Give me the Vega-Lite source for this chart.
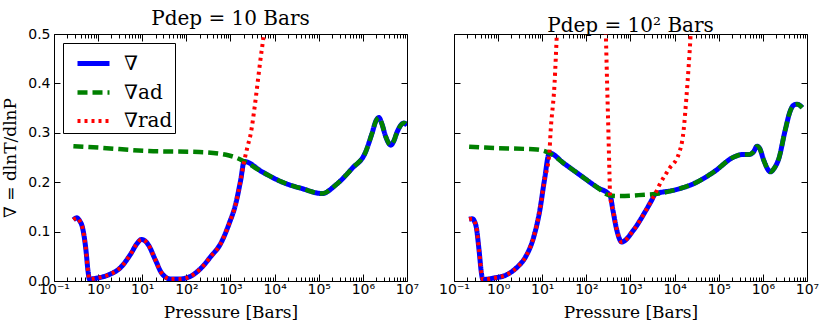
{
"$schema": "https://vega.github.io/schema/vega-lite/v6.json",
"padding": {"left": 1, "top": 8, "right": 5, "bottom": 2},
"config": {
  "view": {"stroke": "black", "strokeWidth": 1},
  "title": {"font": "DejaVu Serif", "fontSize": 20, "fontWeight": "normal", "offset": 2, "dy": 4, "color": "black"},
  "axis": {"labelFont": "DejaVu Sans", "labelFontSize": 14, "labelFontWeight": "normal", "labelColor": "black", "titleFont": "DejaVu Serif", "titleFontSize": 17, "titleFontWeight": "normal", "titleColor": "black", "domain": false, "grid": false, "tickColor": "black", "labelOverlap": false, "labelBound": false, "labelFlush": false},
  "legend": {"orient": "top-left", "offset": 9, "padding": 2, "strokeColor": "black", "fillColor": "white", "symbolType": "stroke", "symbolSize": 1024, "symbolOffset": 10, "labelFont": "DejaVu Serif", "labelFontSize": 20, "labelColor": "black", "rowPadding": 0, "labelOffset": 12, "cornerRadius": 0},
  "concat": {"spacing": 18}
},
"data": {"values": [
{"p":"L","s":"∇rad","P":0.275,"v":0.124},{"p":"L","s":"∇rad","P":0.33,"v":0.128},{"p":"L","s":"∇rad","P":0.38,"v":0.122},{"p":"L","s":"∇rad","P":0.44,"v":0.109},{"p":"L","s":"∇rad","P":0.52,"v":0.069},{"p":"L","s":"∇rad","P":0.6,"v":0.015},{"p":"L","s":"∇rad","P":0.63,"v":0.004},{"p":"L","s":"∇rad","P":0.95,"v":0.006},{"p":"L","s":"∇rad","P":1.78,"v":0.013},{"p":"L","s":"∇rad","P":3.2,"v":0.027},{"p":"L","s":"∇rad","P":5.5,"v":0.055},{"p":"L","s":"∇rad","P":7.5,"v":0.075},{"p":"L","s":"∇rad","P":9.6,"v":0.084},{"p":"L","s":"∇rad","P":12,"v":0.08},{"p":"L","s":"∇rad","P":14,"v":0.072},{"p":"L","s":"∇rad","P":20,"v":0.042},{"p":"L","s":"∇rad","P":28,"v":0.015},{"p":"L","s":"∇rad","P":44,"v":0.004},{"p":"L","s":"∇rad","P":68,"v":0.004},{"p":"L","s":"∇rad","P":114,"v":0.008},{"p":"L","s":"∇rad","P":210,"v":0.025},{"p":"L","s":"∇rad","P":354,"v":0.049},{"p":"L","s":"∇rad","P":600,"v":0.076},{"p":"L","s":"∇rad","P":930,"v":0.116},{"p":"L","s":"∇rad","P":1320,"v":0.157},{"p":"L","s":"∇rad","P":1700,"v":0.204},{"p":"L","s":"∇rad","P":2040,"v":0.242},{"p":"L","s":"∇rad","P":2400,"v":0.27},{"p":"L","s":"∇rad","P":2900,"v":0.3},{"p":"L","s":"∇rad","P":3500,"v":0.35},{"p":"L","s":"∇rad","P":4100,"v":0.4},{"p":"L","s":"∇rad","P":4800,"v":0.45},{"p":"L","s":"∇rad","P":5700,"v":0.5},{"p":"L","s":"∇rad","P":7000,"v":0.58},
{"p":"L","s":"∇ad","P":0.275,"v":0.273},{"p":"L","s":"∇ad","P":1.05,"v":0.27},{"p":"L","s":"∇ad","P":14,"v":0.263},{"p":"L","s":"∇ad","P":195,"v":0.261},{"p":"L","s":"∇ad","P":930,"v":0.254},{"p":"L","s":"∇ad","P":1400,"v":0.249},{"p":"L","s":"∇ad","P":2040,"v":0.242},{"p":"L","s":"∇ad","P":5200,"v":0.221},{"p":"L","s":"∇ad","P":15000,"v":0.2},{"p":"L","s":"∇ad","P":42000,"v":0.187},{"p":"L","s":"∇ad","P":120000,"v":0.177},{"p":"L","s":"∇ad","P":240000,"v":0.194},{"p":"L","s":"∇ad","P":570000,"v":0.228},{"p":"L","s":"∇ad","P":1150000,"v":0.261},{"p":"L","s":"∇ad","P":1600000,"v":0.298},{"p":"L","s":"∇ad","P":2000000,"v":0.325},{"p":"L","s":"∇ad","P":2300000,"v":0.331},{"p":"L","s":"∇ad","P":2700000,"v":0.318},{"p":"L","s":"∇ad","P":3300000,"v":0.292},{"p":"L","s":"∇ad","P":4300000,"v":0.275},{"p":"L","s":"∇ad","P":5000000,"v":0.283},{"p":"L","s":"∇ad","P":6000000,"v":0.302},{"p":"L","s":"∇ad","P":8500000,"v":0.32},{"p":"L","s":"∇ad","P":10000000,"v":0.315},
{"p":"L","s":"∇","P":0.275,"v":0.124},{"p":"L","s":"∇","P":0.33,"v":0.128},{"p":"L","s":"∇","P":0.38,"v":0.122},{"p":"L","s":"∇","P":0.44,"v":0.109},{"p":"L","s":"∇","P":0.52,"v":0.069},{"p":"L","s":"∇","P":0.6,"v":0.015},{"p":"L","s":"∇","P":0.63,"v":0.004},{"p":"L","s":"∇","P":0.95,"v":0.006},{"p":"L","s":"∇","P":1.78,"v":0.013},{"p":"L","s":"∇","P":3.2,"v":0.027},{"p":"L","s":"∇","P":5.5,"v":0.055},{"p":"L","s":"∇","P":7.5,"v":0.075},{"p":"L","s":"∇","P":9.6,"v":0.084},{"p":"L","s":"∇","P":12,"v":0.08},{"p":"L","s":"∇","P":14,"v":0.072},{"p":"L","s":"∇","P":20,"v":0.042},{"p":"L","s":"∇","P":28,"v":0.015},{"p":"L","s":"∇","P":44,"v":0.004},{"p":"L","s":"∇","P":68,"v":0.004},{"p":"L","s":"∇","P":114,"v":0.008},{"p":"L","s":"∇","P":210,"v":0.025},{"p":"L","s":"∇","P":354,"v":0.049},{"p":"L","s":"∇","P":600,"v":0.076},{"p":"L","s":"∇","P":930,"v":0.116},{"p":"L","s":"∇","P":1320,"v":0.157},{"p":"L","s":"∇","P":1700,"v":0.204},{"p":"L","s":"∇","P":2040,"v":0.242},{"p":"L","s":"∇","P":5200,"v":0.221},{"p":"L","s":"∇","P":15000,"v":0.2},{"p":"L","s":"∇","P":42000,"v":0.187},{"p":"L","s":"∇","P":120000,"v":0.177},{"p":"L","s":"∇","P":240000,"v":0.194},{"p":"L","s":"∇","P":570000,"v":0.228},{"p":"L","s":"∇","P":1150000,"v":0.261},{"p":"L","s":"∇","P":1600000,"v":0.298},{"p":"L","s":"∇","P":2000000,"v":0.325},{"p":"L","s":"∇","P":2300000,"v":0.331},{"p":"L","s":"∇","P":2700000,"v":0.318},{"p":"L","s":"∇","P":3300000,"v":0.292},{"p":"L","s":"∇","P":4300000,"v":0.275},{"p":"L","s":"∇","P":5000000,"v":0.283},{"p":"L","s":"∇","P":6000000,"v":0.302},{"p":"L","s":"∇","P":8500000,"v":0.32},{"p":"L","s":"∇","P":10000000,"v":0.315},
{"p":"R","s":"∇rad","P":0.22,"v":0.125},{"p":"R","s":"∇rad","P":0.26,"v":0.126},{"p":"R","s":"∇rad","P":0.29,"v":0.121},{"p":"R","s":"∇rad","P":0.32,"v":0.109},{"p":"R","s":"∇rad","P":0.37,"v":0.062},{"p":"R","s":"∇rad","P":0.42,"v":0.015},{"p":"R","s":"∇rad","P":0.45,"v":0.003},{"p":"R","s":"∇rad","P":0.8,"v":0.006},{"p":"R","s":"∇rad","P":1.5,"v":0.012},{"p":"R","s":"∇rad","P":2.7,"v":0.028},{"p":"R","s":"∇rad","P":4.2,"v":0.049},{"p":"R","s":"∇rad","P":6.4,"v":0.089},{"p":"R","s":"∇rad","P":8.8,"v":0.143},{"p":"R","s":"∇rad","P":11.2,"v":0.204},{"p":"R","s":"∇rad","P":14.5,"v":0.259},{"p":"R","s":"∇rad","P":15.4,"v":0.3},{"p":"R","s":"∇rad","P":19,"v":0.4},{"p":"R","s":"∇rad","P":21.4,"v":0.5},{"p":"R","s":"∇rad","P":25,"v":0.65},{"p":"R","s":"∇rad","P":240,"v":0.65},{"p":"R","s":"∇rad","P":276,"v":0.5},{"p":"R","s":"∇rad","P":295,"v":0.4},{"p":"R","s":"∇rad","P":316,"v":0.3},{"p":"R","s":"∇rad","P":333,"v":0.22},{"p":"R","s":"∇rad","P":345,"v":0.173},{"p":"R","s":"∇rad","P":400,"v":0.143},{"p":"R","s":"∇rad","P":490,"v":0.103},{"p":"R","s":"∇rad","P":630,"v":0.079},{"p":"R","s":"∇rad","P":1170,"v":0.103},{"p":"R","s":"∇rad","P":2140,"v":0.14},{"p":"R","s":"∇rad","P":3000,"v":0.163},{"p":"R","s":"∇rad","P":3600,"v":0.176},{"p":"R","s":"∇rad","P":4500,"v":0.194},{"p":"R","s":"∇rad","P":7500,"v":0.227},{"p":"R","s":"∇rad","P":12500,"v":0.258},{"p":"R","s":"∇rad","P":16000,"v":0.305},{"p":"R","s":"∇rad","P":18500,"v":0.372},{"p":"R","s":"∇rad","P":21000,"v":0.44},{"p":"R","s":"∇rad","P":23000,"v":0.497},{"p":"R","s":"∇rad","P":26000,"v":0.6},
{"p":"R","s":"∇ad","P":0.22,"v":0.272},{"p":"R","s":"∇ad","P":0.5,"v":0.27},{"p":"R","s":"∇ad","P":7.6,"v":0.266},{"p":"R","s":"∇ad","P":14.5,"v":0.259},{"p":"R","s":"∇ad","P":31,"v":0.238},{"p":"R","s":"∇ad","P":73,"v":0.214},{"p":"R","s":"∇ad","P":173,"v":0.19},{"p":"R","s":"∇ad","P":345,"v":0.173},{"p":"R","s":"∇ad","P":585,"v":0.172},{"p":"R","s":"∇ad","P":2350,"v":0.175},{"p":"R","s":"∇ad","P":3600,"v":0.176},{"p":"R","s":"∇ad","P":9800,"v":0.184},{"p":"R","s":"∇ad","P":27000,"v":0.197},{"p":"R","s":"∇ad","P":78000,"v":0.221},{"p":"R","s":"∇ad","P":220000,"v":0.251},{"p":"R","s":"∇ad","P":340000,"v":0.256},{"p":"R","s":"∇ad","P":480000,"v":0.256},{"p":"R","s":"∇ad","P":620000,"v":0.262},{"p":"R","s":"∇ad","P":740000,"v":0.273},{"p":"R","s":"∇ad","P":850000,"v":0.268},{"p":"R","s":"∇ad","P":1050000,"v":0.244},{"p":"R","s":"∇ad","P":1480000,"v":0.221},{"p":"R","s":"∇ad","P":1800000,"v":0.228},{"p":"R","s":"∇ad","P":2300000,"v":0.248},{"p":"R","s":"∇ad","P":3200000,"v":0.305},{"p":"R","s":"∇ad","P":4200000,"v":0.345},{"p":"R","s":"∇ad","P":5000000,"v":0.356},{"p":"R","s":"∇ad","P":6000000,"v":0.358},{"p":"R","s":"∇ad","P":7800000,"v":0.351},
{"p":"R","s":"∇","P":0.22,"v":0.125},{"p":"R","s":"∇","P":0.26,"v":0.126},{"p":"R","s":"∇","P":0.29,"v":0.121},{"p":"R","s":"∇","P":0.32,"v":0.109},{"p":"R","s":"∇","P":0.37,"v":0.062},{"p":"R","s":"∇","P":0.42,"v":0.015},{"p":"R","s":"∇","P":0.45,"v":0.003},{"p":"R","s":"∇","P":0.8,"v":0.006},{"p":"R","s":"∇","P":1.5,"v":0.012},{"p":"R","s":"∇","P":2.7,"v":0.028},{"p":"R","s":"∇","P":4.2,"v":0.049},{"p":"R","s":"∇","P":6.4,"v":0.089},{"p":"R","s":"∇","P":8.8,"v":0.143},{"p":"R","s":"∇","P":11.2,"v":0.204},{"p":"R","s":"∇","P":14.5,"v":0.259},{"p":"R","s":"∇","P":31,"v":0.238},{"p":"R","s":"∇","P":73,"v":0.214},{"p":"R","s":"∇","P":173,"v":0.19},{"p":"R","s":"∇","P":345,"v":0.173},{"p":"R","s":"∇","P":400,"v":0.143},{"p":"R","s":"∇","P":490,"v":0.103},{"p":"R","s":"∇","P":630,"v":0.079},{"p":"R","s":"∇","P":1170,"v":0.103},{"p":"R","s":"∇","P":2140,"v":0.14},{"p":"R","s":"∇","P":3000,"v":0.163},{"p":"R","s":"∇","P":3600,"v":0.176},{"p":"R","s":"∇","P":9800,"v":0.184},{"p":"R","s":"∇","P":27000,"v":0.197},{"p":"R","s":"∇","P":78000,"v":0.221},{"p":"R","s":"∇","P":220000,"v":0.251},{"p":"R","s":"∇","P":340000,"v":0.256},{"p":"R","s":"∇","P":480000,"v":0.256},{"p":"R","s":"∇","P":620000,"v":0.262},{"p":"R","s":"∇","P":740000,"v":0.273},{"p":"R","s":"∇","P":850000,"v":0.268},{"p":"R","s":"∇","P":1050000,"v":0.244},{"p":"R","s":"∇","P":1480000,"v":0.221},{"p":"R","s":"∇","P":1800000,"v":0.228},{"p":"R","s":"∇","P":2300000,"v":0.248},{"p":"R","s":"∇","P":3200000,"v":0.305},{"p":"R","s":"∇","P":4200000,"v":0.345},{"p":"R","s":"∇","P":5000000,"v":0.356},{"p":"R","s":"∇","P":6000000,"v":0.358},{"p":"R","s":"∇","P":7800000,"v":0.351}
]},
"resolve": {"legend": {"color": "independent", "strokeDash": "independent", "strokeWidth": "independent"}},
"hconcat": [
{
  "width": 353, "height": 247,
  "title": "Pdep = 10 Bars",
  "transform": [{"filter": "datum.p == 'L'"}],
  "encoding": {
    "x": {"field": "P", "type": "quantitative", "scale": {"type": "log", "domain": [0.1, 10000000], "nice": false},
      "axis": {"orient": "bottom", "title": "Pressure [Bars]", "values": [0.1,0.2,0.3,0.4,0.5,0.6,0.7,0.8,0.9,1,2,3,4,5,6,7,8,9,10,20,30,40,50,60,70,80,90,100,200,300,400,500,600,700,800,900,1000,2000,3000,4000,5000,6000,7000,8000,9000,10000,20000,30000,40000,50000,60000,70000,80000,90000,100000,200000,300000,400000,500000,600000,700000,800000,900000,1000000,2000000,3000000,4000000,5000000,6000000,7000000,8000000,9000000,10000000],
        "labelExpr": "abs(log(datum.value)/LN10 - round(log(datum.value)/LN10)) < 0.01 ? '10' + ['⁻¹','⁰','¹','²','³','⁴','⁵','⁶','⁷'][round(log(datum.value)/LN10)+1] : ''",
        "tickSize": {"condition": {"test": "abs(log(datum.value)/LN10 - round(log(datum.value)/LN10)) < 0.01", "value": -7}, "value": -4},
        "labelPadding": 8, "titlePadding": 5}},
    "y": {"field": "v", "type": "quantitative", "scale": {"domain": [0, 0.5], "nice": false, "zero": false},
      "axis": {"orient": "left", "title": "∇ = dlnT/dlnP", "values": [0,0.1,0.2,0.3,0.4,0.5], "format": ".1f", "tickSize": -6, "labelPadding": 10, "titlePadding": 8}},
    "color": {"field": "s", "type": "nominal", "scale": {"domain": ["∇","∇ad","∇rad"], "range": ["#0000ff","#008000","#ff0000"]}, "legend": {"title": null}},
    "strokeDash": {"field": "s", "type": "nominal", "scale": {"domain": ["∇","∇ad","∇rad"], "range": [[1,0],[10,5],[3,4]]}, "legend": {"title": null}},
    "strokeWidth": {"field": "s", "type": "nominal", "scale": {"domain": ["∇","∇ad","∇rad"], "range": [5,4,3]}, "legend": {"title": null}}
  },
  "layer": [
    {"layer": [
      {"transform": [{"filter": "datum.s == '∇'"}], "mark": {"type": "line", "clip": true, "interpolate": "monotone"}},
      {"transform": [{"filter": "datum.s == '∇ad'"}], "mark": {"type": "line", "clip": true, "interpolate": "monotone"}},
      {"transform": [{"filter": "datum.s == '∇rad'"}], "mark": {"type": "line", "clip": true, "interpolate": "monotone"}}
    ]},
    {"mark": {"type": "line", "opacity": 0, "clip": true},
     "encoding": {
       "x": {"field": "P", "type": "quantitative", "scale": {"type": "log", "domain": [0.1, 10000000], "nice": false},
         "axis": {"orient": "top", "title": null, "labels": false, "values": [0.1,0.2,0.3,0.4,0.5,0.6,0.7,0.8,0.9,1,2,3,4,5,6,7,8,9,10,20,30,40,50,60,70,80,90,100,200,300,400,500,600,700,800,900,1000,2000,3000,4000,5000,6000,7000,8000,9000,10000,20000,30000,40000,50000,60000,70000,80000,90000,100000,200000,300000,400000,500000,600000,700000,800000,900000,1000000,2000000,3000000,4000000,5000000,6000000,7000000,8000000,9000000,10000000],
           "tickSize": {"condition": {"test": "abs(log(datum.value)/LN10 - round(log(datum.value)/LN10)) < 0.01", "value": -7}, "value": -4}}},
       "y": {"field": "v", "type": "quantitative", "scale": {"domain": [0, 0.5], "nice": false, "zero": false},
         "axis": {"orient": "right", "title": null, "labels": false, "values": [0,0.1,0.2,0.3,0.4,0.5], "tickSize": -6}}
     }}
  ],
  "resolve": {"axis": {"x": "independent", "y": "independent"}}
},
{
  "width": 353, "height": 247,
  "title": "Pdep = 10² Bars",
  "transform": [{"filter": "datum.p == 'R'"}],
  "encoding": {
    "x": {"field": "P", "type": "quantitative", "scale": {"type": "log", "domain": [0.1, 10000000], "nice": false},
      "axis": {"orient": "bottom", "title": "Pressure [Bars]", "values": [0.1,0.2,0.3,0.4,0.5,0.6,0.7,0.8,0.9,1,2,3,4,5,6,7,8,9,10,20,30,40,50,60,70,80,90,100,200,300,400,500,600,700,800,900,1000,2000,3000,4000,5000,6000,7000,8000,9000,10000,20000,30000,40000,50000,60000,70000,80000,90000,100000,200000,300000,400000,500000,600000,700000,800000,900000,1000000,2000000,3000000,4000000,5000000,6000000,7000000,8000000,9000000,10000000],
        "labelExpr": "abs(log(datum.value)/LN10 - round(log(datum.value)/LN10)) < 0.01 ? '10' + ['⁻¹','⁰','¹','²','³','⁴','⁵','⁶','⁷'][round(log(datum.value)/LN10)+1] : ''",
        "tickSize": {"condition": {"test": "abs(log(datum.value)/LN10 - round(log(datum.value)/LN10)) < 0.01", "value": -7}, "value": -4},
        "labelPadding": 8, "titlePadding": 5}},
    "y": {"field": "v", "type": "quantitative", "scale": {"domain": [0, 0.5], "nice": false, "zero": false},
      "axis": {"orient": "left", "title": null, "labels": false, "values": [0,0.1,0.2,0.3,0.4,0.5], "tickSize": -6}},
    "color": {"field": "s", "type": "nominal", "scale": {"domain": ["∇","∇ad","∇rad"], "range": ["#0000ff","#008000","#ff0000"]}, "legend": null},
    "strokeDash": {"field": "s", "type": "nominal", "scale": {"domain": ["∇","∇ad","∇rad"], "range": [[1,0],[10,5],[3,4]]}, "legend": null},
    "strokeWidth": {"field": "s", "type": "nominal", "scale": {"domain": ["∇","∇ad","∇rad"], "range": [5,4,3]}, "legend": null}
  },
  "layer": [
    {"layer": [
      {"transform": [{"filter": "datum.s == '∇'"}], "mark": {"type": "line", "clip": true, "interpolate": "monotone"}},
      {"transform": [{"filter": "datum.s == '∇ad'"}], "mark": {"type": "line", "clip": true, "interpolate": "monotone"}},
      {"transform": [{"filter": "datum.s == '∇rad'"}], "mark": {"type": "line", "clip": true, "interpolate": "monotone"}}
    ]},
    {"mark": {"type": "line", "opacity": 0, "clip": true},
     "encoding": {
       "x": {"field": "P", "type": "quantitative", "scale": {"type": "log", "domain": [0.1, 10000000], "nice": false},
         "axis": {"orient": "top", "title": null, "labels": false, "values": [0.1,0.2,0.3,0.4,0.5,0.6,0.7,0.8,0.9,1,2,3,4,5,6,7,8,9,10,20,30,40,50,60,70,80,90,100,200,300,400,500,600,700,800,900,1000,2000,3000,4000,5000,6000,7000,8000,9000,10000,20000,30000,40000,50000,60000,70000,80000,90000,100000,200000,300000,400000,500000,600000,700000,800000,900000,1000000,2000000,3000000,4000000,5000000,6000000,7000000,8000000,9000000,10000000],
           "tickSize": {"condition": {"test": "abs(log(datum.value)/LN10 - round(log(datum.value)/LN10)) < 0.01", "value": -7}, "value": -4}}},
       "y": {"field": "v", "type": "quantitative", "scale": {"domain": [0, 0.5], "nice": false, "zero": false},
         "axis": {"orient": "right", "title": null, "labels": false, "values": [0,0.1,0.2,0.3,0.4,0.5], "tickSize": -6}}
     }}
  ],
  "resolve": {"axis": {"x": "independent", "y": "independent"}}
}
]
}
